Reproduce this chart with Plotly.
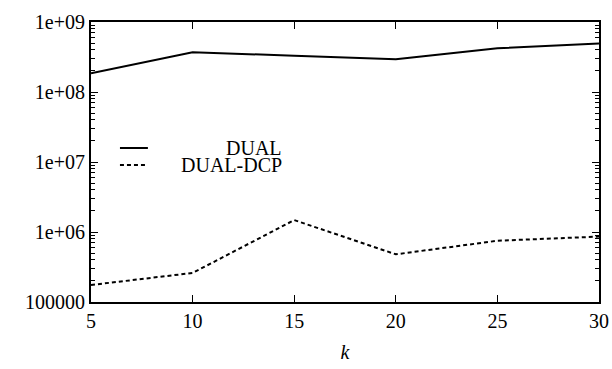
import plotly.graph_objects as go

k_values = [5, 10, 15, 20, 25, 30]
dual = [1.85e8, 3.69e8, 3.3e8, 2.93e8, 4.2e8, 4.95e8]
dual_dcp = [1.75e5, 2.6e5, 1.48e6, 4.8e5, 7.5e5, 8.6e5]
series_names = ["DUAL", "DUAL-DCP"]
y_tickvals = [1e5, 1e6, 1e7, 1e8, 1e9]
y_ticktext = ["100000", "1e+06", "1e+07", "1e+08", "1e+09"]
x_tickvals = [5, 10, 15, 20, 25, 30]

FONT = "Liberation Serif, Times New Roman, serif"
FS = 20

# minor tick positions (2..9 within each decade)
minor_vals = [m * d for d in y_tickvals[:-1] for m in range(2, 10)]

fig = go.Figure()
fig.add_trace(go.Scatter(x=k_values, y=dual, mode="lines", name=series_names[0],
                         line=dict(color="black", width=2), showlegend=False))
fig.add_trace(go.Scatter(x=k_values, y=dual_dcp, mode="lines", name=series_names[1],
                         line=dict(color="black", width=2, dash="4px,3px"), showlegend=False))
for ax in ["y2", "y3"]:
    fig.add_trace(go.Scatter(x=[k_values[0]], y=[y_tickvals[0]], yaxis=ax, mode="lines",
                             showlegend=False, hoverinfo="skip", line=dict(width=0)))

leg_y = [0.55, 0.489]
dashes = ["solid", "4px,3px"]
for name, yy, d in zip(series_names, leg_y, dashes):
    fig.add_shape(type="line", xref="paper", yref="paper", x0=0.057, x1=0.112, y0=yy, y1=yy,
                  line=dict(color="black", width=2, dash=d))
    fig.add_annotation(xref="paper", yref="paper", x=0.378, y=yy, text=name, showarrow=False,
                       xanchor="right", yanchor="middle", borderpad=0,
                       font=dict(family=FONT, size=FS, color="black"))

fig.update_layout(
    width=612, height=369,
    margin=dict(l=91, r=13, t=22, b=67, autoexpand=False),
    paper_bgcolor="white", plot_bgcolor="white",
    font=dict(family=FONT, size=FS, color="black"),
    xaxis=dict(range=[5, 30], tickvals=x_tickvals, ticks="inside", ticklen=7, tickwidth=1,
               tickcolor="black", showline=True, linecolor="black", linewidth=2, mirror="ticks",
               showgrid=False, zeroline=False, automargin=False,
               tickfont=dict(family=FONT, size=FS),
               title=dict(text="<i>k</i>", font=dict(family=FONT, size=FS), standoff=14)),
    yaxis=dict(type="log", range=[5, 9], tickvals=y_tickvals, showticklabels=False,
               ticks="inside", ticklen=7, tickwidth=1, tickcolor="black",
               showline=True, linecolor="black", linewidth=2, mirror="ticks",
               showgrid=False, zeroline=False, automargin=False),
    yaxis2=dict(type="log", range=[5, 9], overlaying="y", side="left", tickvals=y_tickvals,
                ticktext=y_ticktext, ticks="", showline=False, showgrid=False, zeroline=False,
                automargin=False, tickfont=dict(family=FONT, size=FS), ticklabelstandoff=5),
    yaxis3=dict(type="log", range=[5, 9], overlaying="y", side="left", tickvals=minor_vals,
                showticklabels=False, ticks="inside", ticklen=4, tickwidth=1, tickcolor="black",
                showline=True, linecolor="black", linewidth=1, mirror="ticks",
                showgrid=False, zeroline=False, automargin=False),
)

fig.write_html("out.html", config={"displayModeBar": False},
               post_script="document.body.style.margin='0';document.body.style.overflow='hidden';")
